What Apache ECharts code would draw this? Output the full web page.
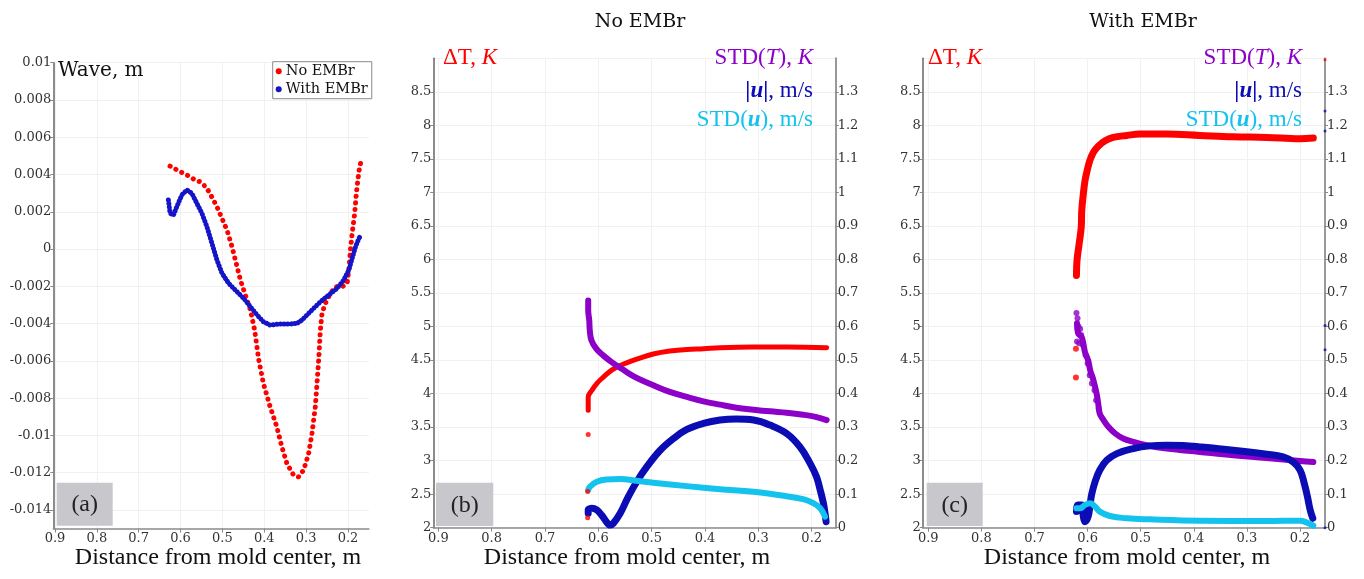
<!DOCTYPE html>
<html><head><meta charset="utf-8">
<script src="https://cdn.jsdelivr.net/npm/echarts@6/dist/echarts.min.js"></script>
<style>html,body{margin:0;padding:0;background:#fff}#c{width:1364px;height:579px}</style>
</head><body><div id="c"></div>
<script>
// ---------- tick labels ----------
const xTicks = [0.2, 0.3, 0.4, 0.5, 0.6, 0.7, 0.8, 0.9];
const waveTicks = [-0.014, -0.012, -0.01, -0.008, -0.006, -0.004, -0.002, 0, 0.002, 0.004, 0.006, 0.008, 0.01];
const legendNames = ['No EMBr', 'With EMBr'];

// ---------- (a) wave height ----------
const waveNoEMBr = [[0.625,0.00445],[0.613,0.00430],[0.601,0.00415],[0.589,0.00402],[0.577,0.00388],[0.565,0.00370],[0.553,0.00361],[0.545,0.00345],[0.537,0.00326],[0.525,0.00278],[0.513,0.00227],[0.501,0.00165],[0.489,0.00102],[0.477,0.00012],[0.469,-0.00059],[0.457,-0.00166],[0.441,-0.00274],[0.433,-0.00327],[0.423,-0.00435],[0.413,-0.00596],[0.402,-0.00721],[0.386,-0.00846],[0.370,-0.00954],[0.358,-0.01061],[0.346,-0.01150],[0.330,-0.01213],[0.318,-0.01222],[0.306,-0.01186],[0.294,-0.01098],[0.286,-0.00989],[0.278,-0.00846],[0.274,-0.00721],[0.270,-0.00596],[0.266,-0.00435],[0.262,-0.00345],[0.254,-0.00291],[0.242,-0.00238],[0.230,-0.00202],[0.214,-0.00202],[0.202,-0.00184],[0.198,-0.00113],[0.194,0.00000],[0.190,0.00084],[0.184,0.00192],[0.180,0.00299],[0.174,0.00415],[0.170,0.00460]];
const waveWithEMBr = [[0.629,0.00263],[0.625,0.00192],[0.617,0.00182],[0.609,0.00227],[0.597,0.00290],[0.585,0.00317],[0.573,0.00299],[0.561,0.00245],[0.549,0.00192],[0.537,0.00120],[0.525,0.00031],[0.513,-0.00059],[0.501,-0.00130],[0.485,-0.00184],[0.465,-0.00229],[0.449,-0.00265],[0.433,-0.00310],[0.417,-0.00354],[0.402,-0.00390],[0.386,-0.00408],[0.362,-0.00402],[0.338,-0.00402],[0.322,-0.00399],[0.310,-0.00381],[0.298,-0.00354],[0.282,-0.00318],[0.266,-0.00283],[0.246,-0.00247],[0.226,-0.00211],[0.210,-0.00166],[0.198,-0.00113],[0.190,-0.00050],[0.182,0.00012],[0.174,0.00057],[0.169,0.00075]];

// ---------- (b) No EMBr ----------
const bDeltaT = [[0.619,3.75],[0.619,3.95],[0.612,4.05],[0.603,4.15],[0.590,4.25],[0.575,4.35],[0.559,4.42],[0.540,4.48],[0.522,4.53],[0.497,4.59],[0.466,4.634],[0.434,4.659],[0.403,4.67],[0.372,4.684],[0.309,4.693],[0.247,4.693],[0.172,4.684]];
const bDeltaTIso = [[0.619,3.39],[0.620,2.54],[0.620,2.15]];
const bStdT = [[0.619,0.678],[0.619,0.648],[0.617,0.618],[0.616,0.588],[0.613,0.559],[0.604,0.534],[0.591,0.514],[0.575,0.494],[0.556,0.474],[0.531,0.449],[0.497,0.425],[0.466,0.405],[0.434,0.390],[0.403,0.377],[0.372,0.367],[0.341,0.358],[0.309,0.352],[0.278,0.347],[0.247,0.343],[0.216,0.337],[0.191,0.330],[0.172,0.321]];
const bU = [[0.619,0.043],[0.619,0.053],[0.612,0.058],[0.603,0.053],[0.594,0.038],[0.585,0.018],[0.578,0.008],[0.572,0.013],[0.559,0.043],[0.544,0.092],[0.528,0.137],[0.509,0.182],[0.484,0.231],[0.459,0.266],[0.434,0.293],[0.403,0.311],[0.372,0.321],[0.341,0.324],[0.309,0.321],[0.278,0.306],[0.247,0.281],[0.222,0.241],[0.203,0.192],[0.191,0.152],[0.184,0.112],[0.178,0.073],[0.175,0.043],[0.173,0.018]];
const bStdU = [[0.619,0.112],[0.616,0.122],[0.603,0.137],[0.585,0.144],[0.559,0.145],[0.528,0.140],[0.497,0.134],[0.434,0.124],[0.372,0.115],[0.309,0.107],[0.247,0.094],[0.216,0.085],[0.197,0.073],[0.184,0.058],[0.175,0.033]];

// ---------- (c) With EMBr ----------
const cDeltaT = [[0.621,5.76],[0.620,5.98],[0.616,6.23],[0.612,6.48],[0.611,6.73],[0.608,6.98],[0.605,7.17],[0.601,7.32],[0.596,7.47],[0.589,7.60],[0.580,7.69],[0.567,7.77],[0.552,7.82],[0.526,7.85],[0.501,7.87],[0.451,7.87],[0.389,7.85],[0.326,7.83],[0.263,7.82],[0.200,7.80],[0.175,7.81]];
const cDeltaTIso = [[0.622,4.67],[0.622,4.24]];
const cDeltaTEdge = [[0.153,8.98]];
const cStdT = [[0.620,0.61],[0.618,0.58],[0.611,0.568],[0.608,0.549],[0.605,0.524],[0.599,0.499],[0.595,0.469],[0.589,0.440],[0.583,0.400],[0.580,0.370],[0.577,0.340],[0.570,0.321],[0.561,0.301],[0.548,0.281],[0.533,0.266],[0.514,0.256],[0.489,0.246],[0.451,0.236],[0.389,0.226],[0.326,0.216],[0.263,0.208],[0.200,0.199],[0.175,0.196]];
const cStdTCloud = [[0.621,0.64],[0.619,0.625],[0.617,0.60],[0.614,0.593],[0.612,0.575],[0.620,0.555],[0.616,0.55],[0.609,0.545],[0.604,0.515],[0.600,0.49],[0.596,0.455],[0.592,0.43],[0.587,0.41],[0.584,0.38],[0.579,0.355]];
const cU = [[0.621,0.048],[0.619,0.068],[0.611,0.068],[0.608,0.033],[0.605,0.018],[0.599,0.033],[0.595,0.073],[0.592,0.102],[0.586,0.137],[0.577,0.172],[0.564,0.201],[0.545,0.221],[0.514,0.236],[0.483,0.244],[0.451,0.246],[0.420,0.245],[0.389,0.241],[0.326,0.231],[0.263,0.219],[0.232,0.211],[0.213,0.196],[0.200,0.172],[0.192,0.132],[0.186,0.092],[0.181,0.053],[0.176,0.028]];
const cUEdge = [[0.153,1.243],[0.153,1.183],[0.153,0.603],[0.153,0.531],[0.153,0.0]];
const cStdU = [[0.621,0.058],[0.614,0.058],[0.605,0.068],[0.595,0.073],[0.586,0.063],[0.577,0.048],[0.558,0.035],[0.526,0.028],[0.483,0.025],[0.389,0.021],[0.263,0.020],[0.200,0.021],[0.188,0.016],[0.175,0.006]];

// ---------- colours ----------
const RED = '#ff0000', PURPLE = '#8c00c8', BLUE = '#0c0cb4', CYAN = '#14c2ee', BLUE_A = '#1414c8';

const chart = echarts.init(document.getElementById('c'), null, {renderer: 'canvas'});
const labelFont = {fontFamily: 'DejaVu Serif', fontSize: 13, color: '#333'};
const gridLine = {show: true, lineStyle: {color: '#f1f1f1', width: 1}};

function xAxis(gi, min, max) {
  return {type: 'value', gridIndex: gi, min: min, max: max, inverse: true,
    axisLine: {show: true, onZero: false, lineStyle: {color: '#8a8a8a', width: 1.5}},
    axisTick: {show: true, length: 4, customValues: xTicks, lineStyle: {color: '#8a8a8a'}},
    axisLabel: Object.assign({margin: 4, customValues: xTicks, formatter: v => v.toFixed(1)}, labelFont),
    splitLine: gridLine};
}
function yAxis(gi, pos, min, max, interval, digits, split) {
  return {type: 'value', gridIndex: gi, position: pos, min: min, max: max, interval: interval,
    axisLine: {show: true, onZero: false, lineStyle: {color: pos === 'left' ? '#666' : '#999', width: pos === 'left' ? 1.5 : 2}},
    axisTick: {show: true, length: 3, lineStyle: {color: '#888'}},
    axisLabel: Object.assign({margin: 2, showMaxLabel: false, formatter: v => String(+v.toFixed(digits))}, labelFont),
    splitLine: split ? gridLine : {show: false}};
}
function curve(name, data, xi, yi, color, width) {
  return {type: 'line', name: name, data: data, xAxisIndex: xi, yAxisIndex: yi, showSymbol: false,
    smooth: 0.4, color: color, lineStyle: {color: color, width: width, cap: 'round', join: 'round'}, silent: true, z: 3};
}
function dots(name, data, xi, yi, color, size) {
  return {type: 'scatter', name: name, data: data, xAxisIndex: xi, yAxisIndex: yi, symbol: 'circle',
    symbolSize: size, itemStyle: {color: color}, silent: true, z: 3};
}
function dotted(name, data, color, gap) {
  return {type: 'line', name: name, data: data, xAxisIndex: 0, yAxisIndex: 0, showSymbol: false,
    color: color, itemStyle: {color: color},
    lineStyle: {color: color, width: 5, type: [0.1, gap], cap: 'round', join: 'round'}, silent: true, z: 3};
}
function txt(x, y, text, align, size, family, color, rich) {
  return {type: 'text', x: x, y: y, silent: true, z: 10,
    style: {text: text, align: align, textAlign: align, verticalAlign: 'middle', textVerticalAlign: 'middle',
      fontSize: size, fontFamily: family, fill: color, rich: rich || {}}};
}
function mathRich(size, color) {
  const f = 'Liberation Serif';
  return {
    n: {fontSize: size, fontFamily: f, color: color},
    i: {fontSize: size, fontFamily: f, color: color, fontStyle: 'italic'},
    b: {fontSize: size, fontFamily: f, color: color, fontWeight: 'bold'},
    bi: {fontSize: size, fontFamily: f, color: color, fontWeight: 'bold', fontStyle: 'italic'}
  };
}
function mathLabels(leftX, rightX) {
  const s = 23;
  return [
    txt(leftX, 58, '{n|ΔT, }{i|K}', 'left', s, 'Liberation Serif', RED, mathRich(s, RED)),
    txt(rightX, 58, '{n|STD(}{i|T}{n|), }{i|K}', 'right', s, 'Liberation Serif', PURPLE, mathRich(s, PURPLE)),
    txt(rightX, 91, '{b||}{bi|u}{b||}{n|, m/s}', 'right', s, 'Liberation Serif', BLUE, mathRich(s, BLUE)),
    txt(rightX, 120, '{n|STD(}{bi|u}{n|), m/s}', 'right', s, 'Liberation Serif', CYAN, mathRich(s, CYAN))
  ];
}
function panelTag(x, y, w, h, label) {
  return [
    {type: 'rect', shape: {x: x, y: y, width: w, height: h}, style: {fill: '#c8c8cc'}, silent: true, z: 9},
    txt(x + w / 2, y + h / 2 + 1, label, 'center', 24, 'Liberation Serif', '#222')
  ];
}

const option = {
  animation: false,
  backgroundColor: '#fff',
  grid: [
    {left: 53.3, top: 62.7, width: 315.6, height: 465.9, outerBoundsMode: 'none'},
    {left: 433.3, top: 58.3, width: 402.4, height: 469.4, outerBoundsMode: 'none'},
    {left: 922.7, top: 58.3, width: 402.3, height: 469.4, outerBoundsMode: 'none'}
  ],
  xAxis: [xAxis(0, 0.15, 0.904), xAxis(1, 0.155, 0.9094), xAxis(2, 0.153, 0.9105)],
  yAxis: [
    Object.assign(yAxis(0, 'left', -0.015, 0.01, null, 3, true), {
      interval: undefined,
      axisTick: {show: true, length: 3, customValues: waveTicks, lineStyle: {color: '#888'}},
      axisLabel: Object.assign({margin: 2, customValues: waveTicks, formatter: v => String(+v.toFixed(3))}, labelFont)
    }),
    yAxis(1, 'left', 2, 9, 0.5, 1, true),
    yAxis(1, 'right', 0, 1.4, 0.1, 1, false),
    yAxis(2, 'left', 2, 9, 0.5, 1, true),
    yAxis(2, 'right', 0, 1.4, 0.1, 1, false)
  ],
  legend: {
    data: legendNames, left: 272.7, top: 61.7, orient: 'vertical', icon: 'circle',
    itemWidth: 6, itemHeight: 6, itemGap: 3, padding: [2, 4, 2, 3],
    borderColor: '#8a8a8a', borderWidth: 1, backgroundColor: '#fff',
    textStyle: {fontFamily: 'DejaVu Serif', fontSize: 14.5, color: '#111', lineHeight: 15, padding: [0, 0, 0, -1]},
    selectedMode: false
  },
  series: [
    dotted(legendNames[0], waveNoEMBr, RED, 6.5),
    dotted(legendNames[1], waveWithEMBr, BLUE_A, 3.5),

    curve('b-dT', bDeltaT, 1, 1, RED, 5),
    dots('b-dT-iso', bDeltaTIso, 1, 1, RED, 5),
    curve('b-stdT', bStdT, 1, 2, PURPLE, 6),
    curve('b-u', bU, 1, 2, BLUE, 7),
    curve('b-stdU', bStdU, 1, 2, CYAN, 6),

    curve('c-dT', cDeltaT, 2, 3, RED, 7),
    dots('c-dT-iso', cDeltaTIso, 2, 3, RED, 6),
    dots('c-dT-edge', cDeltaTEdge, 2, 3, RED, 3),
    curve('c-stdT', cStdT, 2, 4, PURPLE, 6),
    dots('c-stdT-cloud', cStdTCloud, 2, 4, PURPLE, 6),
    curve('c-u', cU, 2, 4, BLUE, 7),
    dots('c-u-edge', cUEdge, 2, 4, BLUE, 3),
    curve('c-stdU', cStdU, 2, 4, CYAN, 6)
  ],
  graphic: {elements: [].concat(
    [txt(640, 22, 'No EMBr', 'center', 19, 'DejaVu Serif', '#111'),
     txt(1143, 22, 'With EMBr', 'center', 19, 'DejaVu Serif', '#111'),
     txt(58, 71, 'Wave, m', 'left', 20, 'DejaVu Serif', '#111'),
     txt(218, 558, 'Distance from mold center, m', 'center', 24, 'Liberation Serif', '#111'),
     txt(627, 558, 'Distance from mold center, m', 'center', 24, 'Liberation Serif', '#111'),
     txt(1127, 558, 'Distance from mold center, m', 'center', 24, 'Liberation Serif', '#111')],
    mathLabels(443, 813),
    mathLabels(928, 1302),
    panelTag(56.7, 482.7, 56, 43, '(a)'),
    panelTag(436, 482.7, 57.3, 43.3, '(b)'),
    panelTag(926.7, 482.7, 56, 43.3, '(c)')
  )}
};
chart.setOption(option);
</script>
</body></html>
